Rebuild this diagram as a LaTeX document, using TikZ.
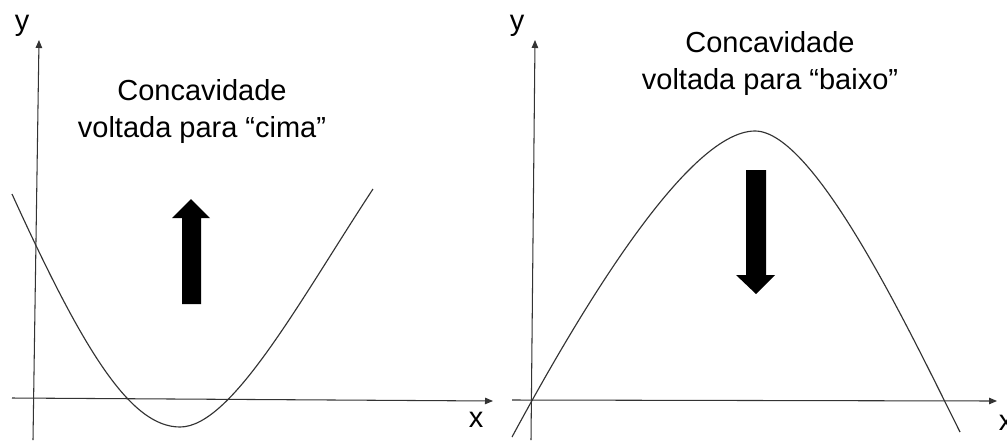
\documentclass[tikz,border=0pt]{standalone}
\usepackage{fontspec}
\setmainfont{Liberation Sans}
\usetikzlibrary{arrows.meta}

\begin{document}
\begin{tikzpicture}[
    x=0.02cm, y=-0.02cm,
    ax/.style={line width=0.6pt, black!80, -{Triangle[length=0.16cm, width=0.13cm]}},
    crv/.style={line width=0.65pt, black!80},
    lbl/.style={font=\fontsize{16.5}{20}\selectfont, anchor=base, inner sep=0pt},
    blk/.style={fill=black, draw=none}
]
    \useasboundingbox (0,0) rectangle (1007,440);
    \clip (0,0) rectangle (1007,440);

    % left: concavity up
    \coordinate (ly0) at (33,440);
    \coordinate (ly1) at (39,40);
    \coordinate (lx0) at (12,398);
    \coordinate (lx1) at (493,401);
    \draw[ax] (ly0) -- (ly1);
    \draw[ax] (lx0) -- (lx1);
    \node[lbl] (ly) at (22,30) {y};
    \node[lbl] (lx) at (476,427) {x};

    \draw[crv] (12,194) .. controls (82.7,349.3) and (130,427) .. (180,427)
        .. controls (232,427) and (300,300) .. (373,189);

    \fill[blk] (182,304) -- (201,304) -- (201,218) -- (210,218) -- (191,199)
        -- (172,218) -- (182,218) -- cycle;

    \node[lbl] (cima1) at (202,100) {Concavidade};
    \node[lbl] (cima2) at (202,137) {voltada para “cima”};

    % right: concavity down
    \coordinate (ry0) at (531,440);
    \coordinate (ry1) at (535,40);
    \coordinate (rx0) at (512,400);
    \coordinate (rx1) at (997,401);
    \draw[ax] (ry0) -- (ry1);
    \draw[ax] (rx0) -- (rx1);
    \node[lbl] (ry) at (517,30) {y};
    \node[lbl] (rx) at (1006,430) {x};

    \draw[crv] (512,437) .. controls (572,326) and (685,131) .. (755,131)
        .. controls (815,131) and (910,332) .. (960,432);

    \fill[blk] (746,170) -- (766,170) -- (766,275) -- (775,275) -- (756,294)
        -- (736,275) -- (746,275) -- cycle;

    \node[lbl] (baixo1) at (770,52) {Concavidade};
    \node[lbl] (baixo2) at (770,89) {voltada para “baixo”};
\end{tikzpicture}
\end{document}
